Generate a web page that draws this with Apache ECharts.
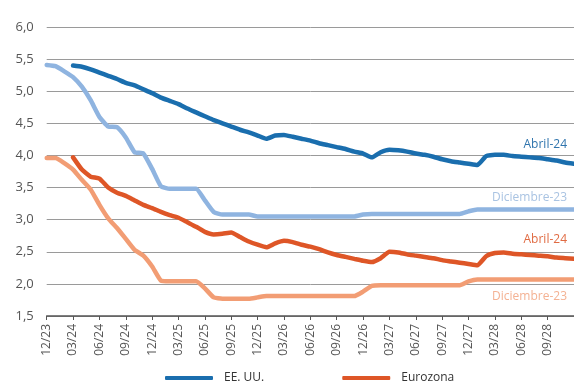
<!DOCTYPE html>
<html>
<head>
<meta charset="utf-8">
<script src="https://cdn.jsdelivr.net/npm/echarts@6/dist/echarts.min.js"></script>
<style>
  html, body { margin: 0; padding: 0; background: #fff; }
  #chart { width: 574px; height: 392px; }
</style>
</head>
<body>
<div id="chart"></div>
<script>
// meses (12/23 .. 12/28), etiqueta cada trimestre
const months = [
  '12/23', '01/24', '02/24', '03/24', '04/24', '05/24', '06/24', '07/24', '08/24', '09/24', '10/24', '11/24',
  '12/24', '01/25', '02/25', '03/25', '04/25', '05/25', '06/25', '07/25', '08/25', '09/25', '10/25', '11/25',
  '12/25', '01/26', '02/26', '03/26', '04/26', '05/26', '06/26', '07/26', '08/26', '09/26', '10/26', '11/26',
  '12/26', '01/27', '02/27', '03/27', '04/27', '05/27', '06/27', '07/27', '08/27', '09/27', '10/27', '11/27',
  '12/27', '01/28', '02/28', '03/28', '04/28', '05/28', '06/28', '07/28', '08/28', '09/28', '10/28', '11/28',
  '12/28'
]

// EE. UU. - expectativas abril-24
const usApr24 = [
  '-', '-', '-',
  5.40, 5.38, 5.34, 5.29, 5.24, 5.19, 5.13, 5.09, 5.03, 4.97,
  4.90, 4.85, 4.80, 4.73, 4.67, 4.61, 4.55, 4.50, 4.45, 4.40,
  4.36, 4.31, 4.26, 4.31, 4.32, 4.29, 4.26, 4.23, 4.19, 4.16,
  4.13, 4.10, 4.06, 4.03, 3.97, 4.05, 4.09, 4.08, 4.06, 4.03,
  4.01, 3.98, 3.94, 3.91, 3.89, 3.87, 3.85, 3.99, 4.01, 4.01,
  3.99, 3.98, 3.97, 3.96, 3.94, 3.92, 3.89, 3.87
]

// EE. UU. - expectativas diciembre-23
const usDec23 = [
  5.41, 5.39, 5.31, 5.22, 5.07, 4.86, 4.60, 4.45, 4.44, 4.28, 4.05, 4.03, 3.79, 3.52, 3.48,
  3.48, 3.48, 3.48,
  3.30, 3.12, 3.08,
  3.08, 3.08, 3.08,
  3.05, 3.05, 3.05, 3.05, 3.05, 3.05, 3.05, 3.05, 3.05, 3.05, 3.05, 3.05,
  3.08,
  3.09, 3.09, 3.09, 3.09, 3.09, 3.09, 3.09, 3.09, 3.09, 3.09, 3.09,
  3.13, 3.16,
  3.16, 3.16, 3.16, 3.16, 3.16, 3.16, 3.16, 3.16, 3.16, 3.16, 3.16
]

// Eurozona - expectativas abril-24
const euApr24 = [
  '-', '-', '-',
  3.97, 3.78, 3.67, 3.64, 3.50, 3.42, 3.37, 3.30, 3.23, 3.18,
  3.12, 3.07, 3.03, 2.96, 2.89, 2.81, 2.77, 2.78, 2.80, 2.73,
  2.66, 2.61, 2.57, 2.63, 2.67, 2.65, 2.61, 2.58, 2.54, 2.49,
  2.45, 2.42, 2.39, 2.36, 2.34, 2.40, 2.50, 2.49, 2.46, 2.44,
  2.42, 2.40, 2.37, 2.35, 2.33, 2.31, 2.29, 2.43, 2.48, 2.49,
  2.47, 2.46, 2.45, 2.44, 2.43, 2.41, 2.40, 2.39
]

// Eurozona - expectativas diciembre-23
const euDec23 = [
  3.96, 3.96, 3.88, 3.78, 3.62, 3.47, 3.23, 3.02, 2.87, 2.70, 2.53, 2.44, 2.27, 2.05, 2.04,
  2.04, 2.04, 2.04,
  1.93, 1.79, 1.77,
  1.77, 1.77, 1.77,
  1.79,
  1.81, 1.81, 1.81, 1.81, 1.81, 1.81, 1.81, 1.81, 1.81, 1.81, 1.81,
  1.88, 1.97,
  1.98, 1.98, 1.98, 1.98, 1.98, 1.98, 1.98, 1.98, 1.98, 1.98,
  2.04, 2.07,
  2.07, 2.07, 2.07, 2.07, 2.07, 2.07, 2.07, 2.07, 2.07, 2.07, 2.07
]

const font = '"Open Sans", "Noto Sans", sans-serif'
const darkBlue = '#1a6eae'
const lightBlue = '#8fb4e0'
const darkOrange = '#de5627'
const lightOrange = '#f29d74'

function lineSeries(name, data, color) {
  return {
    name: name,
    type: 'line',
    data: data,
    showSymbol: false,
    symbol: 'none',
    smooth: 0.15,
    color: color,
    lineStyle: { width: 4.5, color: color, cap: 'round', join: 'round' }
  }
}

// trimestres visibles (la ultima etiqueta queda fuera del recorte)
const showQuarter = i => i % 3 === 0 && i < months.length - 1

const chart = echarts.init(document.getElementById('chart'))
chart.setOption({
  animation: false,
  grid: { left: 46.7, right: -2.5, top: 27, bottom: 76 },
  xAxis: {
    type: 'category',
    data: months,
    boundaryGap: false,
    axisLine: { lineStyle: { color: '#555', width: 1.5 } },
    axisTick: { interval: showQuarter, length: 4, lineStyle: { color: '#555' } },
    axisLabel: { interval: showQuarter, rotate: 90, margin: 8, fontSize: 12, color: '#555', fontFamily: font },
    splitLine: { show: false }
  },
  yAxis: {
    type: 'value',
    min: 1.5,
    max: 6,
    interval: 0.5,
    axisLine: { show: false },
    axisTick: { show: false },
    axisLabel: {
      margin: 13,
      fontSize: 13,
      color: '#555',
      fontFamily: font,
      formatter: v => v.toFixed(1).replace('.', ',')
    },
    splitLine: { lineStyle: { color: '#9a9a9a', width: 1 } }
  },
  legend: {
    data: ['EE. UU.', 'Eurozona'],
    left: 160,
    bottom: 3,
    icon: 'roundRect',
    itemWidth: 48,
    itemHeight: 4,
    itemGap: 78,
    textStyle: { fontSize: 12, color: '#333', fontFamily: font, padding: [0, 0, 0, 6] }
  },
  graphic: [
    { type: 'text', x: 567, y: 145, style: { text: 'Abril-24', fill: '#2f74ad', font: '12px ' + font, align: 'right', verticalAlign: 'middle' } },
    { type: 'text', x: 567, y: 198, style: { text: 'Diciembre-23', fill: '#a9c3e2', font: '12px ' + font, align: 'right', verticalAlign: 'middle' } },
    { type: 'text', x: 567, y: 240, style: { text: 'Abril-24', fill: '#e06b43', font: '12px ' + font, align: 'right', verticalAlign: 'middle' } },
    { type: 'text', x: 567, y: 297, style: { text: 'Diciembre-23', fill: '#f4b293', font: '12px ' + font, align: 'right', verticalAlign: 'middle' } }
  ],
  series: [
    lineSeries('EE. UU. Dic-23', usDec23, lightBlue),
    lineSeries('Eurozona Dic-23', euDec23, lightOrange),
    lineSeries('EE. UU.', usApr24, darkBlue),
    lineSeries('Eurozona', euApr24, darkOrange)
  ]
})
</script>
</body>
</html>
